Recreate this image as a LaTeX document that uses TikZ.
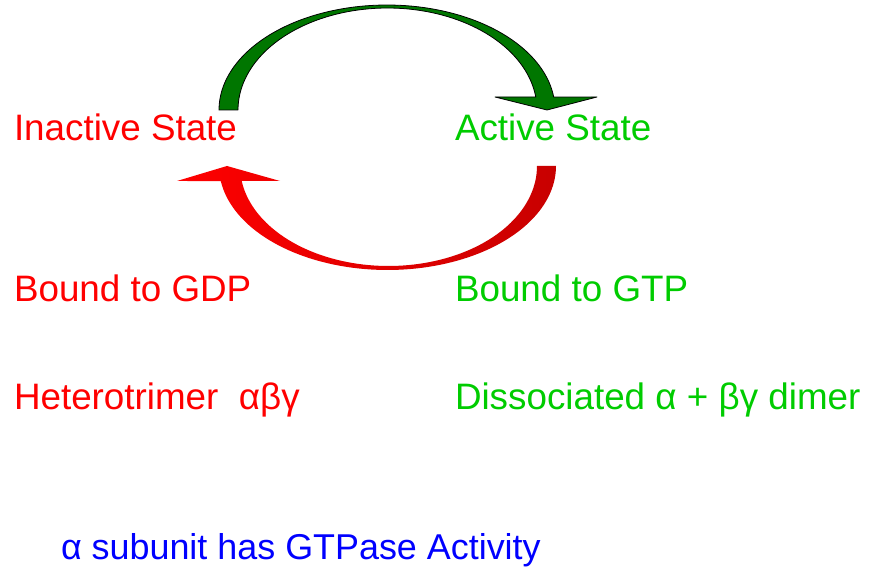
\documentclass[tikz,border=0pt]{standalone}
\usepackage{fontspec}
\setmainfont{Liberation Sans}
\definecolor{txtred}{RGB}{255,0,0}
\definecolor{txtgreen}{RGB}{0,204,0}
\definecolor{txtblue}{RGB}{0,0,255}
\definecolor{arrgreen}{RGB}{0,118,0}
\definecolor{arrdarkred}{RGB}{200,0,0}
\tikzset{
  lbl/.style={anchor=base west, inner sep=0pt, outer sep=0pt, font=\fontsize{36.8}{40}\selectfont},
  redlbl/.style={lbl, text=txtred},
  greenlbl/.style={lbl, text=txtgreen},
  bluelbl/.style={lbl, text=txtblue, font=\fontsize{35.9}{40}\selectfont},
  greenarrow/.style={fill=arrgreen, draw=black, line width=0.8pt, line join=round},
  redarrow/.style={left color=txtred, middle color=txtred, right color=arrdarkred, draw=none},
}
\begin{document}
\begin{tikzpicture}[x=1pt, y=-1pt]
\useasboundingbox (0,0) rectangle (871,577);
\fill[white] (0,0) rectangle (871,577);

% green arrow (inactive -> active), over the top
\draw[greenarrow]
  plot[domain=180:7.1, samples=80] ({387+168*cos(\x)},{110-105*sin(\x)})
  -- (597,97) -- (547,110) -- (495,97) -- (536,97)
  -- plot[domain=7.3:180, samples=80] ({387.5+149.5*cos(\x)},{110-102*sin(\x)})
  -- cycle;

% red arrow (active -> inactive), underneath
\path[redarrow]
  plot[domain=0:171.7, samples=80] ({387.5+168.5*cos(\x)},{166+104*sin(\x)})
  -- (177,181) -- (227,166) -- (280,181) -- (241.7,181)
  -- plot[domain=171.4:0, samples=80] ({388.5+148.5*cos(\x)},{166+100*sin(\x)})
  -- cycle;

\node[redlbl] (inactive) at (14,141) {Inactive State};
\node[greenlbl] (active) at (455,141) {Active State};
\node[redlbl] (gdp) at (14,302) {Bound to GDP};
\node[greenlbl] (gtp) at (455,302) {Bound to GTP};
\node[redlbl] (hetero) at (14,410) {Heterotrimer\ \ αβγ};
\node[greenlbl] (dissoc) at (455,410) {Dissociated α + βγ dimer};
\node[bluelbl] (gtpase) at (61,559) {α subunit has GTPase Activity};
\end{tikzpicture}
\end{document}
